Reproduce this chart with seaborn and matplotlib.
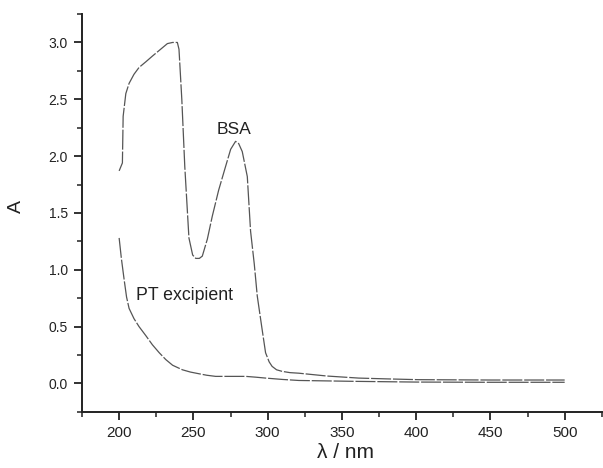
import matplotlib
matplotlib.use("Agg")
import matplotlib.pyplot as plt
import seaborn as sns
import pandas as pd
import numpy as np
from matplotlib.ticker import MultipleLocator

# BSA spectrum
bsa_nm = [200, 202.2, 202.7, 204.5, 206.7, 210, 213.4, 218, 222.4, 227, 232.5, 236, 239.2, 240.3,
          242.2, 244.2, 247, 249.5, 251.6, 254, 256, 259.4, 262.7, 267, 271.7, 275.1, 278.4,
          280.5, 282.9, 286.3, 288.5, 291, 293, 296, 298.6, 301, 303, 306, 309.8, 315, 321,
          340, 361.3, 380, 401.7, 450, 500]
bsa_a = [1.87, 1.94, 2.35, 2.55, 2.64, 2.72, 2.78, 2.83, 2.88, 2.93, 2.99, 3.0, 3.0, 2.94,
         2.50, 1.91, 1.28, 1.13, 1.10, 1.10, 1.12, 1.27, 1.47, 1.70, 1.91, 2.06, 2.13,
         2.11, 2.04, 1.82, 1.34, 1.05, 0.77, 0.50, 0.27, 0.19, 0.15, 0.12, 0.106, 0.095, 0.09,
         0.065, 0.047, 0.04, 0.033, 0.03, 0.03]

# PT excipient spectrum
pt_nm = [200, 201.5, 203.4, 205, 206.7, 210, 213.4, 218, 222.4, 227, 231.4, 236, 242.6,
         248, 253.8, 259, 265, 275, 285.2, 292, 298.6, 310, 321, 360, 400, 450, 500]
pt_a = [1.28, 1.10, 0.91, 0.76, 0.66, 0.57, 0.50, 0.42, 0.34, 0.27, 0.21, 0.16, 0.12,
        0.10, 0.085, 0.072, 0.062, 0.062, 0.062, 0.055, 0.047, 0.035, 0.026, 0.018, 0.012, 0.01, 0.01]

df = pd.concat([
    pd.DataFrame({"nm": bsa_nm, "A": bsa_a, "sample": "BSA"}),
    pd.DataFrame({"nm": pt_nm, "A": pt_a, "sample": "PT excipient"}),
])

sns.set_style("ticks")
plt.rcParams["font.family"] = ["Liberation Sans", "DejaVu Sans"]

fig = plt.figure(figsize=(6.03, 4.68), dpi=100)
ax = fig.add_axes([0.136, 0.12, 0.862, 0.85])

sns.lineplot(data=df, x="nm", y="A", hue="sample", sort=False, estimator=None,
             palette=["#555555", "#555555"], linewidth=0.9, legend=False, ax=ax)
for ln in ax.lines:
    ln.set_dashes((16, 1.5))

ax.set_xlim(175, 525)
ax.set_ylim(-0.25, 3.25)
ax.xaxis.set_major_locator(MultipleLocator(50))
ax.xaxis.set_minor_locator(MultipleLocator(25))
ax.yaxis.set_major_locator(MultipleLocator(0.5))
ax.yaxis.set_minor_locator(MultipleLocator(0.25))
ax.yaxis.set_major_formatter(matplotlib.ticker.FormatStrFormatter("%.1f"))
ax.set_xticks([200, 250, 300, 350, 400, 450, 500])

sns.despine(ax=ax, top=True, right=True)
for s in ["left", "bottom"]:
    ax.spines[s].set_linewidth(1.4)
    ax.spines[s].set_color("#222222")
ax.tick_params(axis="both", which="major", length=6, width=1.3, colors="#222222", pad=4)
ax.tick_params(axis="x", which="major", labelsize=11)
ax.tick_params(axis="y", which="major", labelsize=10)
ax.tick_params(axis="both", which="minor", length=3.5, width=1.1, colors="#222222")

ax.set_xlabel("λ / nm", fontsize=15, color="#222222", va="center")
ax.xaxis.set_label_coords(0.507, -0.103)
ax.set_ylabel("A", fontsize=14, color="#222222", va="center")
ax.yaxis.set_label_coords(-0.126, 0.516)

ax.text(277.3, 2.23, "BSA", fontsize=12.6, ha="center", va="center", color="#222222")
ax.text(243.7, 0.77, "PT excipient", fontsize=12.8, ha="center", va="center", color="#222222")

fig.savefig("out.png", dpi=100)
